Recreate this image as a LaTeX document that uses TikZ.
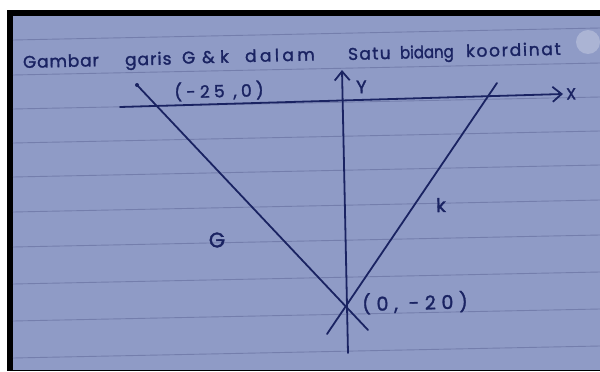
\documentclass[tikz,border=0pt]{standalone}
\usepackage{fontspec}
\setmainfont{Poppins}[FakeBold=1.6]
\usetikzlibrary{arrows.meta}
\definecolor{paper}{RGB}{143,155,198}
\definecolor{ink}{RGB}{26,35,98}
\definecolor{ruleline}{RGB}{116,126,172}
\begin{document}
\begin{tikzpicture}[x=1pt,y=-1pt,
  pen/.style={draw=ink,line width=1.8pt,line cap=round},
  axisline/.style={pen,-{Straight Barb[length=9pt,width=15pt,line width=1.8pt]}},
  title/.style={anchor=base west,inner sep=0pt,text=ink,rotate=1.4,
    font=\fontsize{17}{17}\selectfont\addfontfeatures{LetterSpace=#1}},
  title/.default=8,
  lbl/.style={inner sep=0pt,text=ink,rotate=1.4}]
\useasboundingbox (0,0) rectangle (600,372);
\fill[white] (0,0) rectangle (600,372);
\fill[black] (7,10) rectangle (600,371);
\fill[paper] (13,15.5) rectangle (600,370);
% ruled lines of the paper
\foreach \l in {40,75,109,143,177,212,247,284,321,358}
  \draw[ruleline,line width=0.9pt] (13,\l) -- (600,\l-12);
% glare
\fill[white,opacity=0.25] (588,42) circle (12);
% title
\node[title=5] (w1) at (23,68) {Gambar};
\node[title=6] (w2) at (125,65.6) {garis};
\node[title] (w3) at (182,63.7) {G};
\node[title] (w4) at (202,63.2) {\&};
\node[title] (w5) at (220,62.8) {k};
\node[title=20] (w6) at (245,62.1) {dalam};
\node[title=8] (w7) at (348,60) {Satu};
\node[title=0,xscale=0.88] (w8) at (400,58.7) {bidang};
\node[title=10] (w9) at (466,57.1) {koordinat};
% axes and lines
\coordinate (xa0) at (120,107);
\coordinate (xa1) at (563,94);
\coordinate (ya0) at (348,353);
\coordinate (ya1) at (342,70);
\coordinate (g0) at (137,85);
\coordinate (g1) at (368,330);
\coordinate (k0) at (497,83);
\coordinate (k1) at (327,334);
\draw[axisline] (xa0) -- (xa1);
\draw[axisline] (ya0) -- (ya1);
\draw[pen] (g0) -- (g1);
\draw[pen] (k1) -- (k0);
\fill[ink] (g0) circle (2);
% labels
\node[lbl,anchor=west,font=\fontsize{16}{16}\selectfont] (xl) at (566,94) {X};
\node[lbl,anchor=west,font=\fontsize{18}{18}\selectfont] (yl) at (356,87) {Y};
\node[lbl,font=\fontsize{17}{17}\selectfont\addfontfeatures{LetterSpace=25}] (p1) at (219,91) {(-25 ,0)};
\node[lbl,anchor=west,font=\fontsize{19}{19}\selectfont\addfontfeatures{LetterSpace=30}] (p2) at (362,304) {(0, -20)};
\node[lbl,font=\fontsize{19}{19}\selectfont] (kl) at (441,205) {k};
\node[lbl,font=\fontsize{21}{21}\selectfont] (gl) at (217,240) {G};
\end{tikzpicture}
\end{document}
